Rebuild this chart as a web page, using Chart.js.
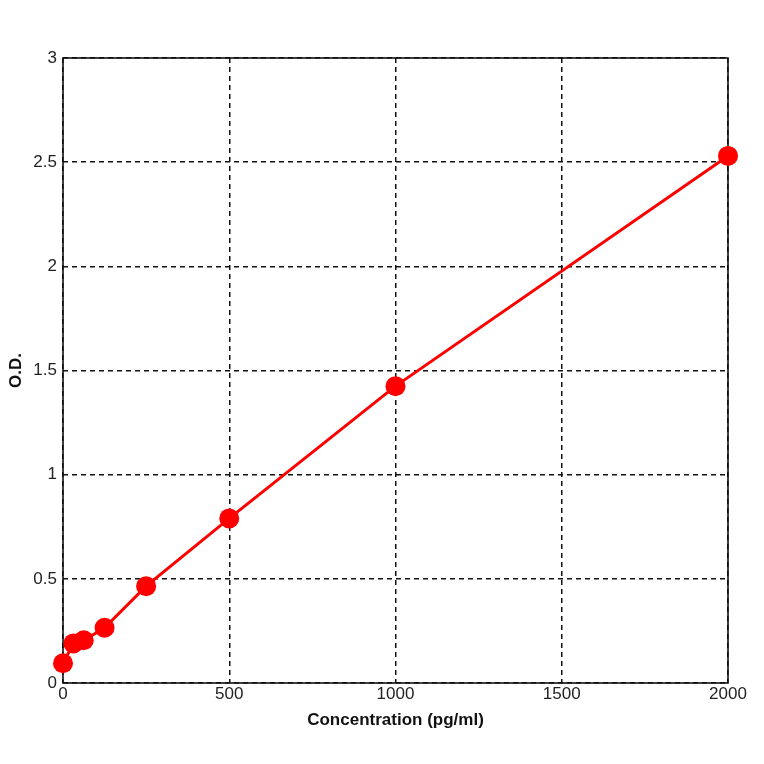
<!DOCTYPE html>
<html>
<head>
<meta charset="utf-8">
<script src="https://cdn.jsdelivr.net/npm/chart.js@4/dist/chart.umd.min.js"></script>
<style>
  html, body { margin: 0; padding: 0; background: #fff; }
  #wrap { width: 764px; height: 764px; }
</style>
</head>
<body>
<div id="wrap"><canvas id="curve"></canvas></div>
<script>
// standard curve readings
const concentration = [0, 31.25, 62.5, 125, 250, 500, 1000, 2000];
const od = [0.095, 0.19, 0.205, 0.265, 0.465, 0.79, 1.425, 2.53];

const xTicks = [0, 500, 1000, 1500, 2000];
const yTicks = [0, 0.5, 1, 1.5, 2, 2.5, 3];

const points = concentration.map((c, i) => ({ x: c, y: od[i] }));

// solid frame around the plot area
const frame = {
  id: 'frame',
  beforeDatasetsDraw(chart) {
    const a = chart.chartArea;
    const ctx = chart.ctx;
    ctx.save();
    ctx.strokeStyle = '#111';
    ctx.lineWidth = 1.6;
    ctx.setLineDash([]);
    ctx.strokeRect(a.left, a.top, a.right - a.left, a.bottom - a.top);
    ctx.restore();
  }
};

const tickFont = { family: 'Liberation Sans', size: 17 };
const titleFont = { family: 'Liberation Sans', size: 17, weight: 'bold' };

const ctx = document.getElementById('curve');
const chart = new Chart(ctx, {
  type: 'scatter',
  data: {
    datasets: [{
      data: points,
      showLine: true,
      clip: false,
      borderColor: '#ff0000',
      backgroundColor: '#ff0000',
      borderWidth: 3,
      pointRadius: 10,
      pointHoverRadius: 10,
      pointBorderWidth: 0,
      tension: 0
    }]
  },
  options: {
    responsive: true,
    maintainAspectRatio: false,
    animation: false,
    layout: { padding: { left: 0, top: 58, right: 36, bottom: 0 } },
    plugins: { legend: { display: false }, tooltip: { enabled: false } },
    scales: {
      x: {
        type: 'linear',
        min: 0,
        max: 2000,
        afterBuildTicks: (s) => { s.ticks = xTicks.map(v => ({ value: v })); },
        afterFit: (s) => { s.height = 81; },
        grid: {
          color: '#111',
          lineWidth: 1.5,
          drawTicks: false
        },
        border: { display: false, dash: [5, 4] },
        ticks: {
          color: '#222',
          font: tickFont,
          padding: 1,
          maxRotation: 0,
          autoSkip: false,
          callback: (v) => String(v)
        },
        title: {
          display: true,
          text: 'Concentration (pg/ml)',
          color: '#111',
          font: titleFont,
          padding: { top: 4, bottom: 33 }
        }
      },
      y: {
        type: 'linear',
        min: 0,
        max: 3,
        afterBuildTicks: (s) => { s.ticks = yTicks.map(v => ({ value: v })); },
        afterFit: (s) => { s.width = 63; },
        grid: {
          color: '#111',
          lineWidth: 1.5,
          drawTicks: false
        },
        border: { display: false, dash: [5, 4] },
        ticks: {
          color: '#222',
          font: tickFont,
          padding: 6,
          callback: (v) => String(v)
        },
        title: {
          display: true,
          text: 'O.D.',
          color: '#111',
          font: titleFont,
          padding: { top: 6, bottom: 4 }
        }
      }
    }
  },
  plugins: [frame]
});
</script>
</body>
</html>
